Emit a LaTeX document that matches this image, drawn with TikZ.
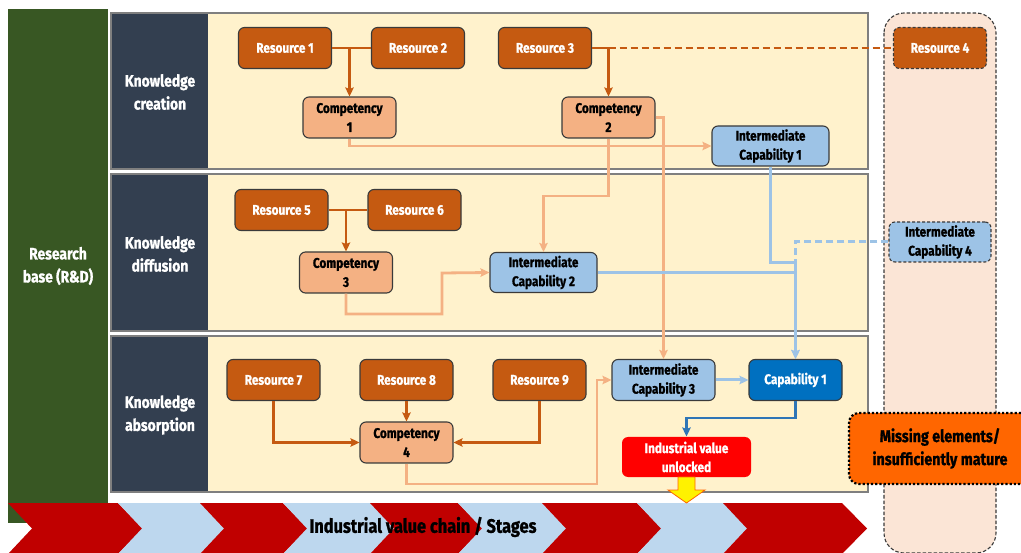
\documentclass[tikz,border=0pt]{standalone}
\usepackage{fontspec}
\setmainfont{Fira Sans}[FakeStretch=0.84, BoldFeatures={FakeBold=1.1}]
\usetikzlibrary{arrows.meta}

\definecolor{rdgreen}{HTML}{385723}
\definecolor{navy}{HTML}{333F50}
\definecolor{cream}{HTML}{FFF2CC}
\definecolor{rowline}{HTML}{7F7F7F}
\definecolor{boxline}{HTML}{3A3A3A}
\definecolor{resfill}{HTML}{C55A11}
\definecolor{compfill}{HTML}{F4B183}
\definecolor{icfill}{HTML}{9DC3E6}
\definecolor{capfill}{HTML}{0070C0}
\definecolor{capline}{HTML}{2E75B6}
\definecolor{chevred}{HTML}{C00000}
\definecolor{chevblue}{HTML}{BDD7EE}
\definecolor{missfill}{HTML}{FF6600}
\definecolor{colfill}{HTML}{FBE5D6}

\tikzset{
  box/.style={draw=boxline, line width=1.1pt, rounded corners=6pt, align=center,
    inner sep=0pt, font=\bfseries\fontsize{14}{19}\selectfont},
  resbox/.style={box, fill=resfill, text=white, minimum width=93pt, minimum height=41pt},
  compbox/.style={box, fill=compfill, text=black, minimum width=93pt, minimum height=41pt},
  icbox/.style={box, fill=icfill, text=black, minimum height=40pt},
  capbox/.style={box, fill=capfill, text=white, minimum width=93pt, minimum height=41pt},
  rowlabel/.style={text=white, align=center, font=\bfseries\fontsize{16.5}{23}\selectfont},
  tip/.style={-{Stealth[length=9pt,width=8.5pt,inset=1.5pt]}},
  resline/.style={draw=resfill, line width=2.8pt},
  compline/.style={draw=compfill, line width=2.8pt},
  icline/.style={draw=icfill, line width=3pt},
  capconn/.style={draw=capline, line width=2.8pt}
}

\begin{document}
\begin{tikzpicture}[x=1pt,y=-1pt]
\clip (0,0) rectangle (1021,553);
\fill[white] (0,0) rectangle (1021,553);

% research base column
\fill[rdgreen] (8,9) rectangle (108,523);
\node[rowlabel] (rd) at (58,266) {Research\\base (R\&D)};

% column of missing elements
\draw[fill=colfill, draw=boxline, line width=1.1pt, dash pattern=on 3.5pt off 2pt,
  rounded corners=20pt] (884,13) rectangle (996,553);

% the three knowledge rows
\foreach \ya/\yb in {13/169, 174/331, 336/492}{
  \fill[cream] (111,\ya) rectangle (868,\yb);
  \fill[navy] (111,\ya) rectangle (208,\yb);
  \draw[rowline, line width=1.3pt] (111,\ya) rectangle (868,\yb);
}
\node[rowlabel] (lab1) at (160,92) {Knowledge\\creation};
\node[rowlabel] (lab2) at (160,254) {Knowledge\\diffusion};
\node[rowlabel] (lab3) at (160,415) {Knowledge\\absorption};

% value chain chevrons
\foreach \xa/\xb/\c in {8/118/chevred, 118/200/chevblue, 200/283/chevred,
  283/370/chevblue, 370/458/chevred, 458/542/chevblue, 542/637/chevred,
  637/723/chevblue, 723/842/chevred}{
  \fill[\c] (\xa,503) -- (\xb,503) -- (\xb+25,528.5) -- (\xb,554) -- (\xa,554)
    -- (\xa+24,528.5) -- cycle;
}
\node[font=\bfseries\fontsize{19.5}{22}\selectfont] (chain) at (423,527) {Industrial value chain / Stages};

% knowledge creation
\node[resbox] (r1) at (285,48) {Resource 1};
\node[resbox] (r2) at (418,48) {Resource 2};
\node[resbox] (r3) at (545,48) {Resource 3};
\node[resbox, dash pattern=on 3pt off 2pt] (r4) at (940,48) {Resource 4};
\node[compbox] (c1) at (349.5,117.5) {Competency\\1};
\node[compbox] (c2) at (608.5,117.5) {Competency\\2};
\node[icbox, minimum width=117pt] (ic1) at (770.5,146) {Intermediate\\Capability 1};

% knowledge diffusion
\node[resbox] (r5) at (281.5,210) {Resource 5};
\node[resbox] (r6) at (414.5,210) {Resource 6};
\node[compbox] (c3) at (346,272.5) {Competency\\3};
\node[icbox, minimum width=107pt] (ic2) at (543.5,272.5) {Intermediate\\Capability 2};
\node[icbox, minimum width=102pt, dash pattern=on 3pt off 2pt] (ic4) at (940,242) {Intermediate\\Capability 4};

% knowledge absorption
\node[resbox] (r7) at (273.5,380) {Resource 7};
\node[resbox] (r8) at (406.5,380) {Resource 8};
\node[resbox] (r9) at (539.5,380) {Resource 9};
\node[compbox] (c4) at (406.5,442.5) {Competency\\4};
\node[icbox, minimum width=103pt, minimum height=41pt] (ic3) at (663.5,380) {Intermediate\\Capability 3};
\node[capbox] (cap1) at (795.5,380) {Capability 1};
\node[box, draw=none, fill=red, text=white, minimum width=129pt, minimum height=40pt] (ind) at (686.5,457) {Industrial value\\unlocked};

% bend points of the connectors
\coordinate (k2) at (608.5,196);
\coordinate (k3a) at (346,314);
\coordinate (k3b) at (442,273);
\coordinate (k4a) at (406.5,484);
\coordinate (k4b) at (597,380);
\coordinate (j1) at (795.5,263);
\coordinate (k5) at (795.5,418);

% resources to competencies
\draw[resline] (r1.east) -- (r2.west);
\draw[resline, tip] (c1.north |- r1.east) -- (c1.north);
\draw[resline] (r3.east) -- (c2.north |- r3.east);
\draw[resline, tip] (c2.north |- r3.east) -- (c2.north);
\draw[resline, dash pattern=on 7pt off 4pt] (c2.north |- r3.east) -- (r4.west);
\draw[resline] (r5.east) -- (r6.west);
\draw[resline, tip] (c3.north |- r5.east) -- (c3.north);
\draw[resline, tip] (r7.south) |- (c4.west);
\draw[resline, tip] (r8.south) -- (c4.north);
\draw[resline, tip] (r9.south) |- (c4.east);

% competencies to intermediate capabilities
\draw[compline, tip] (c1.south) |- (ic1.west);
\draw[compline, tip] (c2.south) -- (k2) -| (ic2.north);
\draw[compline, tip] (c2.east) -| (ic3.north);
\draw[compline, tip] (c3.south) -- (k3a) -| (k3b) -- (ic2.west);
\draw[compline, tip] (c4.south) -- (k4a) -| (k4b) -- (ic3.west);

% intermediate capabilities to capability
\draw[icline, tip] (ic1.south) |- (j1) -- (cap1.north);
\draw[icline, tip] (ic2.east) -| (cap1.north);
\draw[icline, dash pattern=on 7pt off 4pt] (ic4.west) -| (j1);
\draw[icline, tip] (ic3.east) -- (cap1.west);

% capability to industrial value
\draw[capconn, tip] (cap1.south) -- (k5) -| (ind.north);

% value released into the chain
\draw[fill=yellow, draw=missfill, line width=0.8pt]
  (678,477) -- (695,477) -- (695,490) -- (705,490) -- (686.5,503) -- (668,490)
  -- (678,490) -- cycle;

% missing elements marker
\node[draw=black, fill=missfill, line width=2.2pt, dotted, rounded corners=10pt,
  minimum width=182pt, minimum height=71pt, align=center,
  font=\bfseries\fontsize{17}{23}\selectfont] (miss) at (940,448.5)
  {Missing elements/\\insufficiently mature};
\end{tikzpicture}
\end{document}
